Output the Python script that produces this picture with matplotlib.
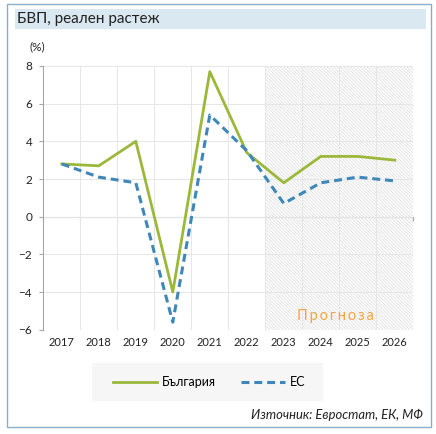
import matplotlib.pyplot as plt
import matplotlib.patches as mpatches
import numpy as np

# %%
years = ["2017", "2018", "2019", "2020", "2021", "2022", "2023", "2024", "2025", "2026"]
bulgaria = [2.8, 2.7, 4.0, -4.0, 7.7, 3.4, 1.8, 3.2, 3.2, 3.0]
eu = [2.8, 2.1, 1.8, -5.6, 5.4, 3.5, 0.7, 1.8, 2.1, 1.9]
forecast_from = "2023"

green = "#9BB83A"
blue = "#3E87B8"
orange = "#F2A541"

# %%
plt.rcParams["font.family"] = ["Lato", "DejaVu Sans"]
plt.rcParams["hatch.linewidth"] = 0.5
plt.rcParams["hatch.color"] = "#dadada"

fig = plt.figure(figsize=(4.36, 4.34), dpi=100)

# frame and title band
fig.patches.append(mpatches.Rectangle((7 / 436, 1 - 427 / 434), 424 / 436, 423 / 434,
                                      transform=fig.transFigure, fill=False,
                                      edgecolor="#86AECB", lw=1.0))
fig.patches.append(mpatches.Rectangle((15 / 436, 1 - 29 / 434), 411 / 436, 20 / 434,
                                      transform=fig.transFigure, facecolor="#DAE8F2",
                                      edgecolor="none"))
fig.text(17 / 436, 1 - 19 / 434, "БВП, реален растеж", fontsize=11, va="center",
         ha="left", color="#222222")
fig.text(29 / 436, 1 - 47 / 434, "(%)", fontsize=8.5, va="center", ha="left",
         color="#222222")

ax = fig.add_axes([43.3 / 436, 1 - 329.7 / 434, 370 / 436, 263.7 / 434])
x = np.arange(len(years))
fi = years.index(forecast_from)

ax.axvspan(fi - 0.5, len(years) - 0.5, facecolor="white", edgecolor="#dadada",
           hatch="\\" * 10, lw=0, zorder=0)

ax.plot(x, bulgaria, color=green, lw=2.0, label="България", zorder=3)
ax.plot(x, eu, color=blue, lw=2.2, ls=(0, (2.6, 1.6)), label="ЕС", zorder=3)

ax.set_xlim(-0.5, len(years) - 0.5)
ax.set_ylim(-6, 8)
ax.set_yticks(np.arange(-6, 9, 2))
ax.set_xticks(x)
ax.set_xticklabels(years)
ax.set_xticks(np.arange(-0.5, len(years)), minor=True)
ax.tick_params(axis="x", which="both", length=0, labelsize=8, pad=5, colors="#222222")
ax.tick_params(axis="y", length=3, color="#a6a6a6", labelsize=8.5, pad=5,
               labelcolor="#222222")

ax.grid(True, which="minor", axis="x", color="#e6e6e6", lw=0.7, zorder=1)
ax.grid(True, which="major", axis="y", color="#e6e6e6", lw=0.7, zorder=1)
ax.set_axisbelow(True)

for s in ["top", "right", "bottom"]:
    ax.spines[s].set_visible(False)
ax.spines["left"].set_color("#a6a6a6")
ax.spines["left"].set_linewidth(0.8)

# zero line with category tick marks
zero = ax.secondary_xaxis(6 / 14)
zero.set_xticks(np.arange(-0.5, len(years)))
zero.set_xticklabels([])
zero.tick_params(length=3, color="#a6a6a6", width=0.8)
zero.spines["bottom"].set_color("#a6a6a6")
zero.spines["bottom"].set_linewidth(0.8)

ax.text(7.4, -5.25, "\u2009".join("Прогноза"), color=orange, fontsize=10.5,
        ha="center", va="center", zorder=4)

leg_bg = mpatches.Rectangle((92 / 436, 1 - 401 / 434), 231 / 436, 38 / 434,
                            transform=fig.transFigure, facecolor="#f6f6f6",
                            edgecolor="none")
fig.patches.append(leg_bg)
fig.legend(loc="center", bbox_to_anchor=(209 / 436, 1 - 382 / 434), ncol=2,
           frameon=False, fontsize=9, handlelength=3.5, columnspacing=2.0,
           handletextpad=0.4)

fig.text(423 / 436, 1 - 415 / 434, "Източник: Евростат, ЕК, МФ", fontsize=9.4,
         style="italic", ha="right", va="center", color="#222222")

plt.savefig("out.png", dpi=100)
